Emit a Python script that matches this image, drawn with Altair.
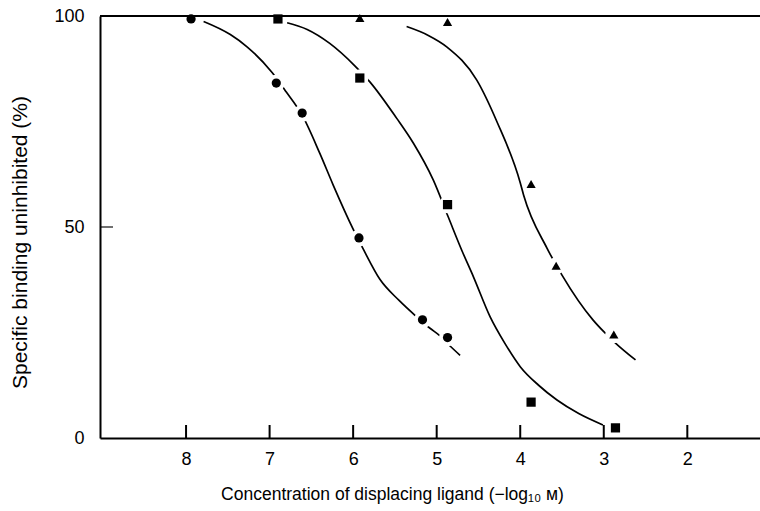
import altair as alt
import pandas as pd

# ---- data ----
circ_x = [7.94, 6.92, 6.61, 5.93, 5.17, 4.87]
circ_y = [99.3, 84.1, 77.0, 47.4, 28.0, 23.8]
sq_x = [6.90, 5.92, 4.87, 3.87, 2.86]
sq_y = [99.3, 85.3, 55.3, 8.5, 2.4]
tri_x = [5.92, 4.87, 3.87, 3.57, 2.88]
tri_y = [99.5, 98.6, 60.2, 40.8, 24.5]

# fitted curves
circ_cx = [7.79, 7.47, 7.27, 6.97, 6.80, 6.61, 6.40, 6.24, 6.00, 5.88, 5.68, 5.45, 5.25, 5.08, 4.96, 4.84, 4.72]
circ_cy = [98.7, 95.6, 92.7, 86.6, 82.0, 76.5, 67.5, 60.0, 49.5, 44.8, 37.6, 32.6, 28.9, 26.0, 24.2, 21.8, 19.6]
sq_cx = [6.79, 6.55, 6.28, 5.98, 5.80, 5.48, 5.28, 5.04, 4.86, 4.70, 4.56, 4.36, 4.18, 4.00, 3.78, 3.56, 3.30, 3.01]
sq_cy = [98.4, 96.8, 93.5, 88.2, 84.4, 75.8, 69.9, 61.1, 52.3, 44.5, 38.2, 28.7, 22.3, 16.9, 12.5, 9.0, 5.8, 3.1]
tri_cx = [5.36, 5.10, 4.88, 4.52, 4.28, 4.00, 3.96, 3.68, 3.50, 3.13, 3.00, 2.86, 2.62]
tri_cy = [97.5, 95.4, 92.7, 84.8, 75.0, 60.5, 57.6, 45.0, 38.6, 28.0, 25.2, 22.5, 18.5]

x_domain = [9.03, 1.13]
y_domain = [0, 100]
x_ticks = [8, 7, 6, 5, 4, 3, 2]
y_labels = [0, 50, 100]
y_inner_ticks = [50]
series = ["circle", "square", "triangle"]
shapes = ["circle", "square", "triangle-up"]

x_title = "Concentration of displacing ligand (\u2212log\u2081\u2080 \u1d0d)"
y_title = "Specific binding uninhibited (%)"

pts = pd.DataFrame(
    [{"s": "circle", "x": a, "y": b} for a, b in zip(circ_x, circ_y)]
    + [{"s": "square", "x": a, "y": b} for a, b in zip(sq_x, sq_y)]
    + [{"s": "triangle", "x": a, "y": b} for a, b in zip(tri_x, tri_y)]
)
curves = pd.DataFrame(
    [{"s": "circle", "x": a, "y": b} for a, b in zip(circ_cx, circ_cy)]
    + [{"s": "square", "x": a, "y": b} for a, b in zip(sq_cx, sq_cy)]
    + [{"s": "triangle", "x": a, "y": b} for a, b in zip(tri_cx, tri_cy)]
)
top = pd.DataFrame({"y": [y_domain[1]]})

W, H = 660, 422
FONT = "Liberation Sans"
TICK = 13  # inward tick length in pixels
tick_span = TICK / H * (y_domain[1] - y_domain[0])
xt = pd.DataFrame({"tx": [float(v) for v in x_ticks],
                   "ty": [float(y_domain[0])] * len(x_ticks),
                   "ty2": [y_domain[0] + tick_span] * len(x_ticks)})
yt = pd.DataFrame({"tx": [float(x_domain[0])] * len(y_inner_ticks),
                   "ty": [float(v) for v in y_inner_ticks]})

xs = alt.Scale(domain=x_domain, nice=False, zero=False)
ys = alt.Scale(domain=y_domain, nice=False, zero=False)

main_x_axis = alt.Axis(
    orient="bottom", values=x_ticks, ticks=False, labelPadding=12,
    labelFontSize=18, labelFont=FONT, labelColor="black",
    domainColor="black", domainWidth=2, grid=False, zindex=0,
    title=x_title, titleFont=FONT, titleFontSize=17.5, titleFontWeight="normal",
    titleColor="black", titleX=292, titleY=61, titleBaseline="alphabetic",
    titleAlign="center", titleAnchor="middle",
)
main_y_axis = alt.Axis(
    orient="left", values=y_labels, ticks=False, labelPadding=16,
    labelFontSize=18, labelFont=FONT, labelColor="black",
    domainColor="black", domainWidth=2, grid=False, zindex=0,
    title=y_title, titleFont=FONT, titleFontSize=21, titleFontWeight="normal",
    titleColor="black", titleX=-80, titleY=226, titleAngle=-90,
    titleBaseline="middle", titleAlign="center", titleAnchor="middle",
)


def X(field):
    return alt.X(field, scale=xs, axis=main_x_axis, title=x_title)


def Y(field):
    return alt.Y(field, scale=ys, axis=main_y_axis, title=y_title)


lines = alt.Chart(curves).mark_line(
    color="black", strokeWidth=1.7, interpolate="monotone"
).encode(
    x=X("x:Q"),
    y=Y("y:Q"),
    detail="s:N",
    order=alt.Order("x:Q"),
)

halos = alt.Chart(pts).mark_point(
    filled=True, shape="circle", size=300, color="white", opacity=1
).encode(x=X("x:Q"), y=Y("y:Q"))

markers = alt.Chart(pts).mark_point(filled=True, color="black", opacity=1, size=85).encode(
    x=X("x:Q"),
    y=Y("y:Q"),
    shape=alt.Shape("s:N", scale=alt.Scale(domain=series, range=shapes), legend=None),
)

top_line = alt.Chart(top).mark_rule(color="black", strokeWidth=2.2).encode(y=Y("y:Q"))

x_tick_rules = alt.Chart(xt).mark_rule(color="black", strokeWidth=2, opacity=1).encode(
    x=X("tx:Q"), y=Y("ty:Q"), y2="ty2:Q"
)

y_tick_marks = alt.Chart(yt).mark_tick(
    orient="horizontal", size=TICK, thickness=1.6, color="black", xOffset=TICK / 2
).encode(x=X("tx:Q"), y=Y("ty:Q"))

chart = (
    alt.layer(x_tick_rules, y_tick_marks, lines, halos, markers, top_line)
    .properties(
        width=W, height=H,
        autosize=alt.AutoSizeParams(type="none"),
        padding={"left": 100, "top": 16, "right": 0, "bottom": 73},
        background="white",
    )
    .configure_axis(labelFontSize=18, labelFont=FONT, titleFont=FONT)
    .configure_view(stroke=None)
)

chart.save("out.html", embed_options={"renderer": "svg", "actions": False})
